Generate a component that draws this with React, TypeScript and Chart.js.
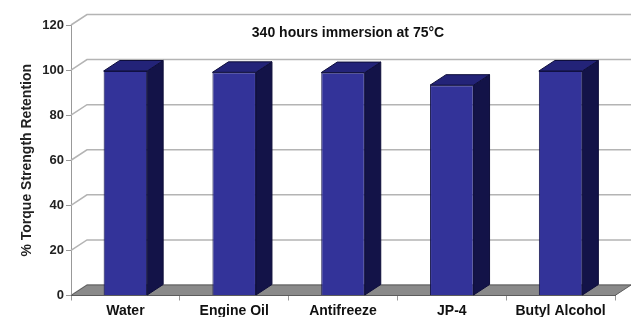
import React, { useEffect, useRef } from "react";
import { Chart, registerables } from "chart.js";

Chart.register(...registerables);

const categories = ["Water", "Engine Oil", "Antifreeze", "JP-4", "Butyl Alcohol"];
const retention = [99.6, 99.0, 98.9, 93.3, 99.6];
const yTicks = [0, 20, 40, 60, 80, 100, 120];
const chartTitle = "340 hours immersion at 75°C";
const yTitle = "% Torque Strength Retention";

const DX = 16;
const DY = -10.5;
const FONT = "'Liberation Sans', Arial, Helvetica, sans-serif";

const depthPlugin = {
  id: "depth3d",
  beforeDatasetsDraw(chart: any) {
    const { ctx, chartArea: a, scales } = chart;
    const y = scales.y;
    ctx.save();
    // back wall gridlines with diagonal connectors
    ctx.strokeStyle = "#b4b4b4";
    ctx.lineWidth = 1.5;
    y.ticks.forEach((t: any) => {
      const py = y.getPixelForValue(t.value);
      ctx.beginPath();
      ctx.moveTo(a.left, py);
      ctx.lineTo(a.left + DX, py + DY);
      ctx.lineTo(a.right + DX, py + DY);
      ctx.stroke();
    });
    // floor
    ctx.beginPath();
    ctx.moveTo(a.left, a.bottom);
    ctx.lineTo(a.right, a.bottom);
    ctx.lineTo(a.right + DX, a.bottom + DY);
    ctx.lineTo(a.left + DX, a.bottom + DY);
    ctx.closePath();
    ctx.fillStyle = "#8a8a8a";
    ctx.fill();
    ctx.strokeStyle = "#5c5c5c";
    ctx.lineWidth = 1;
    ctx.stroke();
    ctx.restore();
  },
  afterDatasetsDraw(chart: any) {
    const { ctx } = chart;
    const meta = chart.getDatasetMeta(0);
    ctx.save();
    ctx.lineWidth = 1;
    ctx.strokeStyle = "#0e0e3a";
    meta.data.forEach((el: any) => {
      const { x, y, base, width } = el.getProps(["x", "y", "base", "width"], true);
      const l = x - width / 2;
      const r = x + width / 2;
      // side face
      ctx.beginPath();
      ctx.moveTo(r, y);
      ctx.lineTo(r + DX, y + DY);
      ctx.lineTo(r + DX, base + DY);
      ctx.lineTo(r, base);
      ctx.closePath();
      ctx.fillStyle = "#131348";
      ctx.fill();
      ctx.stroke();
      // top face
      ctx.beginPath();
      ctx.moveTo(l, y);
      ctx.lineTo(l + DX, y + DY);
      ctx.lineTo(r + DX, y + DY);
      ctx.lineTo(r, y);
      ctx.closePath();
      ctx.fillStyle = "#232378";
      ctx.fill();
      ctx.stroke();
    });
    ctx.restore();
  },
  afterDraw(chart: any) {
    const { ctx, chartArea: a } = chart;
    ctx.save();
    ctx.font = `bold 14px ${FONT}`;
    ctx.fillStyle = "#111";
    ctx.textAlign = "center";
    ctx.textBaseline = "middle";
    ctx.fillText(chartTitle, (a.left + a.right) / 2 + 5, 33);
    ctx.restore();
  },
};

export default function App() {
  const canvasRef = useRef<HTMLCanvasElement | null>(null);

  useEffect(() => {
    document.body.style.margin = "0";
    const canvas = canvasRef.current;
    if (!canvas) return;
    const chart = new Chart(canvas, {
      type: "bar",
      data: {
        labels: categories,
        datasets: [
          {
            data: retention,
            backgroundColor: "#333399",
            borderColor: "#14144a",
            borderWidth: 1,
            barPercentage: 0.4,
            categoryPercentage: 1,
          },
        ],
      },
      plugins: [depthPlugin],
      options: {
        animation: false,
        responsive: true,
        maintainAspectRatio: false,
        layout: { padding: { top: 25, right: 22, bottom: 0, left: 0 } },
        plugins: {
          legend: { display: false },
          tooltip: { enabled: false },
          title: { display: false },
        },
        scales: {
          x: {
            grid: {
              display: true,
              drawOnChartArea: false,
              drawTicks: true,
              tickLength: 5,
              color: "#999",
              offset: true,
            },
            border: { display: true, color: "#555", width: 1 },
            ticks: {
              padding: 2,
              color: "#111",
              font: { family: FONT, size: 14, weight: "bold" },
              maxRotation: 0,
              autoSkip: false,
            },
            afterFit: (s: any) => {
              s.height = 21.5;
            },
          },
          y: {
            min: 0,
            max: 120,
            grid: {
              display: true,
              drawOnChartArea: false,
              drawTicks: true,
              tickLength: 5,
              color: "#999",
            },
            border: { display: true, color: "#999", width: 1 },
            ticks: {
              padding: 2,
              color: "#222",
              font: { family: FONT, size: 13, weight: "bold" },
            },
            afterBuildTicks: (s: any) => {
              s.ticks = yTicks.map((v) => ({ value: v }));
            },
            title: {
              display: true,
              text: yTitle,
              color: "#222",
              font: { family: FONT, size: 14, weight: "bold" },
              padding: { top: 19, bottom: 0 },
            },
            afterFit: (s: any) => {
              s.width = 71;
            },
          },
        },
      },
    });
    return () => chart.destroy();
  }, []);

  return (
    <div style={{ position: "relative", width: "637px", height: "317px" }}>
      <canvas ref={canvasRef} />
    </div>
  );
}
